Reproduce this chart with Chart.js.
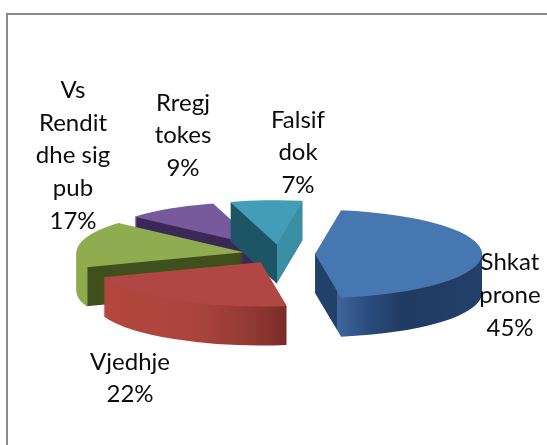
<!DOCTYPE html>
<html><head><meta charset="utf-8">
<style>html,body{margin:0;padding:0;background:#fff}canvas{display:block}</style>
<script src="https://cdn.jsdelivr.net/npm/chart.js@4"></script>
</head><body><canvas id="c" width="547" height="445"></canvas>
<script>
const categories = ["Shkat prone","Vjedhje","Vs Rendit dhe sig pub","Rregj tokes","Falsif dok"];
const values = [45,22,17,9,7];
const topColors = ["#4777b0","#b04742","#8fad50","#775a9b","#439db6"];
const labelLines = [["Shkat","prone","45%"],["Vjedhje","22%"],["Vs","Rendit","dhe sig","pub","17%"],["Rregj","tokes","9%"],["Falsif","dok","7%"]];

const view = {cx:279, cy:254, squash:0.265, depth:39, explode:36, radius:167};
const paintOrder = [3,4,2,1,0];
// wall shading: stop = position across the pie's width (0 left .. 1 right)
const wallStops = [
  [[0,"#21406a"],[0.565,"#21406a"],[0.5651,"#40669a"],[0.66,"#2a4c7c"],[0.76,"#203b62"],[1,"#22406a"]],
  [[0,"#b4473f"],[0.3,"#ac443d"],[0.46,"#943a34"],[0.565,"#7d2d29"],[1,"#7d2d29"]],
  [[0,"#8fab4e"],[0.032,"#8fab4e"],[0.033,"#3f501c"],[1,"#3f501c"]],
  [[0,"#3a2856"],[1,"#3a2856"]],
  [[0,"#1d5566"],[0.5,"#1d5566"],[0.501,"#3a8fa4"],[1,"#3a8fa4"]]
];
const labelBoxes = [
  {x:510,y:262,lh:33},{x:130,y:362,lh:32},{x:73,y:90,lh:32.8},{x:183,y:103,lh:32.5},{x:298,y:120,lh:32.5}
];

const frame = {
  id:'frame',
  beforeDraw(chart){
    const c = chart.ctx;
    c.save();
    c.fillStyle='#fff'; c.fillRect(0,0,chart.width,chart.height);
    c.fillStyle='#8a8a8a';
    c.fillRect(6,13,chart.width-6,2);
    c.fillRect(6,13,2,chart.height-13);
    c.restore();
  }
};
const pie3d = {
  id:'pie3d',
  beforeDatasetsDraw(chart){
    const c = chart.ctx, meta = chart.getDatasetMeta(0);
    const base = {borderWidth:0,borderColor:'transparent',borderRadius:0,offset:0,spacing:0,circular:true,borderAlign:'center',borderJoinStyle:'round',borderDash:[],borderDashOffset:0};
    paintOrder.forEach(i=>{
      const el = meta.data[i];
      const mid = (el.startAngle+el.endAngle)/2;
      const g = c.createLinearGradient(el.x-el.outerRadius,0,el.x+el.outerRadius,0);
      wallStops[i].forEach(s=>g.addColorStop(s[0],s[1]));
      const paint = (dy,fill)=>{
        c.save();
        c.translate(view.cx,view.cy+dy);
        c.scale(1,view.squash);
        c.translate(-el.x,-el.y);
        c.translate(Math.cos(mid)*view.explode,Math.sin(mid)*view.explode);
        el.options = Object.assign({},base,{backgroundColor:fill});
        el.draw(c);
        c.restore();
      };
      for(let d=view.depth;d>=1;d--) paint(d,g);
      paint(0,topColors[i]);
    });
    return false;
  },
  afterDraw(chart){
    const c = chart.ctx;
    c.save();
    c.fillStyle='#0c0c0c';
    c.font='24px Lato';
    c.textAlign='center';
    c.textBaseline='middle';
    labelLines.forEach((lines,i)=>{
      lines.forEach((t,j)=>c.fillText(t,labelBoxes[i].x,labelBoxes[i].y+j*labelBoxes[i].lh));
    });
    c.restore();
  }
};
new Chart(document.getElementById('c'),{
  type:'pie',
  data:{labels:categories,datasets:[{data:values,backgroundColor:topColors,borderWidth:0,radius:view.radius}]},
  options:{
    responsive:false,animation:false,rotation:9,
    layout:{padding:0},
    plugins:{legend:{display:false},tooltip:{enabled:false},title:{display:false}},
    events:[]
  },
  plugins:[frame,pie3d]
});
</script></body></html>
